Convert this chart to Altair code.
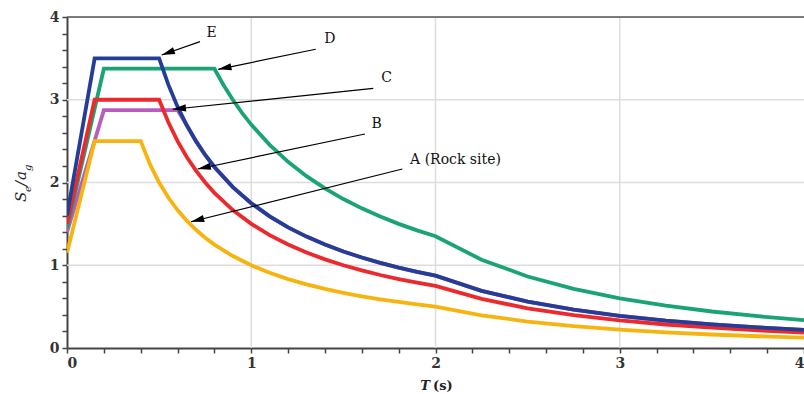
import math
import altair as alt
import pandas as pd

# ---- data ----
T_A = [0, 0.15, 0.40, 0.45, 0.50, 0.55, 0.60, 0.65, 0.70, 0.75, 0.80, 0.90, 1.0, 1.1, 1.2, 1.3, 1.4, 1.5, 1.6, 1.7, 1.8, 1.9, 2.0, 2.25, 2.5, 2.75, 3.0, 3.25, 3.5, 3.75, 4.0]
S_A = [1.15, 2.5, 2.5, 2.222, 2.0, 1.818, 1.667, 1.538, 1.429, 1.333, 1.25, 1.111, 1.0, 0.909, 0.833, 0.769, 0.714, 0.667, 0.625, 0.588, 0.556, 0.526, 0.5, 0.395, 0.32, 0.264, 0.222, 0.189, 0.163, 0.142, 0.125]

T_B = [0, 0.15, 0.50, 0.55, 0.60, 0.65, 0.70, 0.75, 0.80, 0.90, 1.0, 1.1, 1.2, 1.3, 1.4, 1.5, 1.6, 1.7, 1.8, 1.9, 2.0, 2.25, 2.5, 2.75, 3.0, 3.25, 3.5, 3.75, 4.0]
S_B = [1.5, 3.0, 3.0, 2.727, 2.5, 2.308, 2.143, 2.0, 1.875, 1.667, 1.5, 1.364, 1.25, 1.154, 1.071, 1.0, 0.9375, 0.882, 0.833, 0.789, 0.75, 0.593, 0.48, 0.397, 0.333, 0.284, 0.245, 0.213, 0.1875]

# curve C runs under curve E once it leaves its plateau (hidden in the reference)
T_C = [0, 0.2, 0.60, 0.65, 0.70, 0.75, 0.80, 0.90, 1.0, 1.1, 1.2, 1.3, 1.4, 1.5, 1.6, 1.7, 1.8, 1.9, 2.0, 2.25, 2.5, 2.75, 3.0, 3.25, 3.5, 3.75, 4.0]
S_C = [1.4, 2.875, 2.875, 2.692, 2.5, 2.333, 2.1875, 1.944, 1.75, 1.591, 1.458, 1.346, 1.25, 1.167, 1.094, 1.029, 0.972, 0.921, 0.875, 0.691, 0.56, 0.463, 0.389, 0.331, 0.286, 0.249, 0.219]

T_D = [0, 0.2, 0.80, 0.85, 0.90, 0.95, 1.0, 1.1, 1.2, 1.3, 1.4, 1.5, 1.6, 1.7, 1.8, 1.9, 2.0, 2.25, 2.5, 2.75, 3.0, 3.25, 3.5, 3.75, 4.0]
S_D = [1.45, 3.375, 3.375, 3.176, 3.0, 2.842, 2.7, 2.455, 2.25, 2.077, 1.929, 1.8, 1.6875, 1.588, 1.5, 1.421, 1.35, 1.067, 0.864, 0.714, 0.6, 0.511, 0.441, 0.384, 0.3375]

T_E = [0, 0.15, 0.50, 0.55, 0.60, 0.65, 0.70, 0.75, 0.80, 0.90, 1.0, 1.1, 1.2, 1.3, 1.4, 1.5, 1.6, 1.7, 1.8, 1.9, 2.0, 2.25, 2.5, 2.75, 3.0, 3.25, 3.5, 3.75, 4.0]
S_E = [1.6, 3.5, 3.5, 3.182, 2.917, 2.692, 2.5, 2.333, 2.1875, 1.944, 1.75, 1.591, 1.458, 1.346, 1.25, 1.167, 1.094, 1.029, 0.972, 0.921, 0.875, 0.691, 0.56, 0.463, 0.389, 0.331, 0.286, 0.249, 0.219]

series = {"A": (T_A, S_A), "B": (T_B, S_B), "C": (T_C, S_C), "D": (T_D, S_D), "E": (T_E, S_E)}
colors = {"A": "#F7B410", "B": "#EC2A2E", "C": "#B95CC0", "D": "#1AA473", "E": "#243E98"}
draw_order = ["C", "D", "A", "B", "E"]

# annotations: label, label position, arrow start, arrow tip (data units)
ann_labels = ["E", "D", "C", "B", "A (Rock site)"]
ann_lab_T = [0.785, 1.427, 1.735, 1.681, 1.862]
ann_lab_S = [3.807, 3.734, 3.266, 2.707, 2.272]
ann_align = ["center", "center", "center", "center", "left"]
arr_T0 = [0.722, 1.350, 1.662, 1.617, 1.820]
arr_S0 = [3.702, 3.610, 3.138, 2.586, 2.163]
arr_T1 = [0.514, 0.821, 0.574, 0.709, 0.673]
arr_S1 = [3.541, 3.368, 2.885, 2.163, 1.526]

grid_vals = [1, 2, 3]
tick_vals = [round(0.2 * i, 1) for i in range(21)]

# ---- layout ----
W, H = 737, 331
PX_T, PX_S = W / 4.0, H / 4.0
FONT = "DejaVu Serif"
AX = "#444444"

xscale = alt.Scale(domain=[0, 4], nice=False, zero=False)
yscale = alt.Scale(domain=[0, 4], nice=False, zero=False)
label_expr = "datum.value % 1 === 0 ? datum.label : ''"
xaxis = alt.Axis(values=tick_vals, format=".0f", labelExpr=label_expr, title=None, grid=False,
                 tickSize=5, tickColor=AX, tickWidth=1.5, domainColor=AX, domainWidth=2,
                 labelFont=FONT, labelFontSize=14, labelFontWeight="bold", labelColor="#333333",
                 labelPadding=3, labelOverlap=False)
yaxis = alt.Axis(values=tick_vals, format=".0f", labelExpr=label_expr, title=None, grid=False,
                 tickSize=5, tickColor=AX, tickWidth=1.5, domainColor=AX, domainWidth=2,
                 labelFont=FONT, labelFontSize=14, labelFontWeight="bold", labelColor="#333333",
                 labelPadding=3, labelOverlap=False)

def X(field):
    return alt.X(field, type="quantitative", scale=xscale, axis=xaxis)

def Y(field):
    return alt.Y(field, type="quantitative", scale=yscale, axis=yaxis)

layers = []

gdf = pd.DataFrame({"g": grid_vals})
layers.append(alt.Chart(gdf).mark_rule(color="#dddddd", strokeWidth=1.5).encode(
    x=X("g"), y=alt.value(0), y2=alt.value(H)))
layers.append(alt.Chart(gdf).mark_rule(color="#dddddd", strokeWidth=1.5).encode(
    y=Y("g"), x=alt.value(0), x2=alt.value(W)))
layers.append(alt.Chart(pd.DataFrame({"g": [4]})).mark_rule(color="#555555", strokeWidth=1.5).encode(
    y=Y("g"), x=alt.value(0), x2=alt.value(W)))

for key in draw_order:
    t, s = series[key]
    df = pd.DataFrame({"T": t, "S": s, "idx": list(range(len(t)))})
    layers.append(alt.Chart(df).mark_line(color=colors[key], strokeWidth=3.8, clip=True).encode(
        x=X("T"), y=Y("S"), order="idx:Q"))

angles = []
for i in range(len(ann_labels)):
    dx = (arr_T1[i] - arr_T0[i]) * PX_T
    dy = -(arr_S1[i] - arr_S0[i]) * PX_S
    angles.append(math.degrees(math.atan2(dx, -dy)) % 360)

adf = pd.DataFrame({"T": arr_T0, "S": arr_S0, "T2": arr_T1, "S2": arr_S1, "ang": angles})
layers.append(alt.Chart(adf).mark_rule(color="black", strokeWidth=1.2).encode(
    x=X("T"), y=Y("S"), x2="T2:Q", y2="S2:Q"))
layers.append(alt.Chart(adf).mark_point(shape="M0,0 L-0.27,1 L0.27,1 Z", filled=True, color="black",
                                        opacity=1, strokeWidth=0, size=700).encode(
    x=X("T2"), y=Y("S2"), angle=alt.Angle("ang:Q", scale=None)))

ldf = pd.DataFrame({"T": ann_lab_T, "S": ann_lab_S, "lab": ann_labels, "al": ann_align})
for al in ["center", "left"]:
    sub = ldf[ldf["al"] == al]
    layers.append(alt.Chart(sub).mark_text(font=FONT, fontSize=14, color="#111111", align=al,
                                           baseline="middle").encode(
        x=X("T"), y=Y("S"), text="lab:N"))

one = pd.DataFrame({"k": [0]})

def txt(s, px, py, size=15, style="italic", weight="normal", align="left", angle=0):
    return alt.Chart(one).mark_text(text=s, font=FONT, fontSize=size, fontStyle=style,
                                    fontWeight=weight, align=align, baseline="alphabetic",
                                    angle=angle, color="#222222").encode(
        x=alt.value(px - 67), y=alt.value(py - 17))

# y-axis title  S_e / a_g  (rotated)
layers.append(txt("S", 26, 202, 15, angle=270))
layers.append(txt("e", 31, 192, 10, angle=270))
layers.append(txt("/", 26, 186, 15, angle=270))
layers.append(txt("a", 26, 180, 15, angle=270))
layers.append(txt("g", 31, 171, 10, angle=270))
# x-axis title  T (s)
layers.append(txt("T", 430, 390, 13, style="italic", weight="bold", align="right"))
layers.append(txt("(s)", 433, 390, 13, style="normal", weight="bold", align="left"))

chart = alt.layer(*layers).properties(
    width=W, height=H,
    padding={"left": 67, "top": 17, "right": 0, "bottom": 46},
    autosize=alt.AutoSizeParams(type="none"),
).configure_view(stroke=None).configure(background="white")

chart.save("out.html", embed_options={"renderer": "svg", "actions": False})
